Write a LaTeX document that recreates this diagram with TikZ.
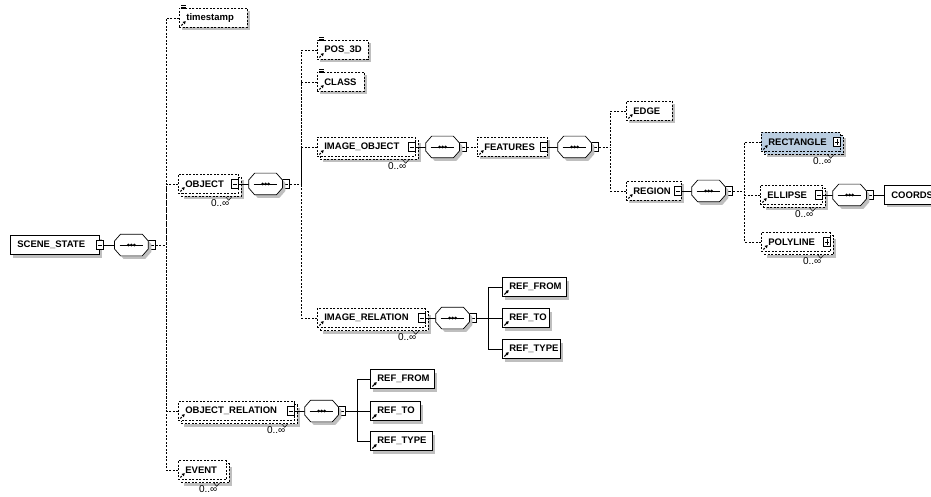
\documentclass[tikz,border=0pt]{standalone}
\usepackage{fontspec}
\setmainfont{Liberation Sans}
\usepackage{tikz}
\usetikzlibrary{positioning,shadows,arrows.meta}
\definecolor{selblue}{RGB}{186,205,224}
\tikzstyle{elem}=[rectangle, draw=black, fill=white, anchor=west, minimum height=19pt, inner xsep=0pt, inner ysep=0pt, align=left, font=\fontsize{9.5}{11}\selectfont\bfseries, execute at begin node={\hspace*{7pt}}]
\tikzset{
  opt/.style={dash pattern=on 2pt off 1.5pt},
  sh/.style={drop shadow={shadow xshift=3pt, shadow yshift=-3pt, fill=black!25, opacity=1}},
  multi/.style={fill=#1,
    preaction={fill=black!25, transform canvas={shift={(6pt,-6pt)}}},
    preaction={draw=black, fill=#1, opt, transform canvas={shift={(3pt,-3pt)}}}},
  multi/.default=white,
  ref/.style={path picture={
    \draw[line width=1.2pt, -{Latex[length=3pt, width=3.6pt]}]
      ([shift={(2pt,2pt)}]path picture bounding box.south west) -- ++(4.5pt,4.5pt);}},
  minus/.style={rectangle, draw=black, fill=white, minimum width=7pt, minimum height=9pt, inner sep=0pt,
    path picture={\draw ([xshift=1.5pt]path picture bounding box.west) -- ([xshift=-1.5pt]path picture bounding box.east);}},
  plus/.style={minus, path picture={
    \draw ([xshift=1.5pt]path picture bounding box.west) -- ([xshift=-1.5pt]path picture bounding box.east);
    \draw ([yshift=1.5pt]path picture bounding box.south) -- ([yshift=-1.5pt]path picture bounding box.north);}},
  seq/.style={rectangle, minimum width=33pt, minimum height=21pt, inner sep=0pt},
  oct/.style={insert path={([yshift=4pt]#1.west) -- ([xshift=6pt]#1.north west) -- ([xshift=-6pt]#1.north east)
    -- ([yshift=4pt]#1.east) -- ([yshift=-4pt]#1.east) -- ([xshift=-6pt]#1.south east)
    -- ([xshift=6pt]#1.south west) -- ([yshift=-4pt]#1.west) -- cycle}},
  card/.style={font=\fontsize{10}{11}\selectfont, inner sep=0pt},
}

\begin{document}
\begin{tikzpicture}[x=1pt, y=1pt, line width=0.7pt]
    \path[use as bounding box, fill=white] (0,0) rectangle (931,496);

    % root element and its sequence
    \node (sceneState) [elem, sh, text width=89pt] at (10,251) {SCENE\_STATE};
    \node (ssMin) [minus] at (sceneState.east) {};
    \node (ssSeq) [seq, right=11pt of ssMin] {};
    \node (ssSeqMin) [minus, right=0pt of ssSeq] {};
    \draw (ssMin) -- (ssSeq);

    % children of SCENE_STATE
    \node (stamp) [elem, opt, sh, ref, text width=68pt] at (179,478) {timestamp};
    \node (obj) [elem, opt, multi, ref, text width=60pt] at (178,312) {OBJECT};
    \node (objRel) [elem, opt, multi, ref, text width=116pt] at (178,85) {OBJECT\_RELATION};
    \node (event) [elem, opt, multi, ref, text width=48pt] at (178,26) {EVENT};

    % OBJECT and what sits below it
    \node (pos) [elem, opt, sh, ref, text width=51pt] at (317,446) {POS\_3D};
    \node (cls) [elem, opt, sh, ref, text width=47pt] at (317,414) {CLASS};
    \node (imgObj) [elem, opt, multi, ref, text width=98pt] at (317,349) {IMAGE\_OBJECT};
    \node (imgRel) [elem, opt, multi, ref, text width=108pt] at (317,178) {IMAGE\_RELATION};
    \node (feat) [elem, opt, sh, ref, text width=70pt] at (477,349) {FEATURES};
    \node (edge) [elem, opt, sh, ref, text width=46pt] at (626,385) {EDGE};
    \node (region) [elem, opt, sh, ref, text width=55pt] at (626,305) {REGION};
    \node (rect) [elem, opt, multi=selblue, ref, text width=79pt] at (761,354) {RECTANGLE};
    \node (ellipse) [elem, opt, multi, ref, text width=62pt] at (760,301) {ELLIPSE};
    \node (poly) [elem, opt, multi, ref, text width=69pt] at (761,254) {POLYLINE};
    \node (coords) [elem, sh, text width=60pt] at (884,301) {COORDS};

    % references of the two relations
    \node (irFrom) [elem, sh, ref, text width=64pt] at (502,209) {REF\_FROM};
    \node (irTo) [elem, sh, ref, text width=47pt] at (502,178) {REF\_TO};
    \node (irType) [elem, sh, ref, text width=58pt] at (502,147) {REF\_TYPE};
    \node (orFrom) [elem, sh, ref, text width=64pt] at (370,117) {REF\_FROM};
    \node (orTo) [elem, sh, ref, text width=50pt] at (370,85) {REF\_TO};
    \node (orType) [elem, sh, ref, text width=62pt] at (370,55) {REF\_TYPE};

    % sequence compositors
    \foreach \p in {obj,imgObj,feat,region,ellipse,imgRel,objRel}{
        \node (\p Min) [minus, left=0pt of \p.east] {};
        \node (\p Seq) [seq, right=10pt of \p Min] {};
        \node (\p SeqMin) [minus, right=0pt of \p Seq] {};
        \draw (\p Min) -- (\p Seq);
    }
    \foreach \p in {ss,obj,imgObj,feat,region,ellipse,imgRel,objRel}{
        \fill[black!25, transform canvas={shift={(3pt,-3pt)}}, oct=\p Seq];
        \filldraw[fill=white, oct=\p Seq];
        \draw ([xshift=5pt]\p Seq.west) -- ([xshift=-5pt]\p Seq.east);
        \foreach \d in {-3,0,3} \fill ([xshift=\d pt]\p Seq.center) circle (1.5pt);
    }
    \node (rectPlus) [plus, left=0pt of rect.east] {};
    \node (polyPlus) [plus, left=0pt of poly.east] {};

    % buses: dashed for optional children, solid for required ones
    \coordinate (ssBus) at ([xshift=10pt]ssSeqMin.east);
    \draw[opt] (ssSeqMin) -- (ssBus);
    \foreach \c in {stamp,obj,objRel,event} \draw[opt] (\c.west) -| (ssBus);

    \coordinate (objBus) at ([xshift=11pt]objSeqMin.east);
    \draw[opt] (objSeqMin) -- (objBus);
    \foreach \c in {pos,cls,imgObj,imgRel} \draw[opt] (\c.west) -| (objBus);

    \draw[opt] (imgObjSeqMin) -- (feat);

    \coordinate (featBus) at ([xshift=11pt]featSeqMin.east);
    \draw[opt] (featSeqMin) -- (featBus);
    \foreach \c in {edge,region} \draw[opt] (\c.west) -| (featBus);

    \coordinate (regionBus) at ([xshift=11pt]regionSeqMin.east);
    \draw[opt] (regionSeqMin) -- (regionBus);
    \foreach \c in {rect,ellipse,poly} \draw[opt] (\c.west) -| (regionBus);

    \draw (ellipseSeqMin) -- (coords);

    \coordinate (imgRelBus) at ([xshift=11pt]imgRelSeqMin.east);
    \draw (imgRelSeqMin) -- (imgRelBus);
    \foreach \c in {irFrom,irTo,irType} \draw (\c.west) -| (imgRelBus);

    \coordinate (objRelBus) at ([xshift=11pt]objRelSeqMin.east);
    \draw (objRelSeqMin) -- (objRelBus);
    \foreach \c in {orFrom,orTo,orType} \draw (\c.west) -| (objRelBus);

    % annotation marks
    \foreach \n in {stamp,pos,cls}
        \foreach \dy in {2.5,1,-0.5}
            \draw[line width=0.5pt] ([shift={(2pt,\dy pt)}]\n.north west) -- ++(4.5pt,0);

    % occurrence notches and labels
    \foreach \n in {obj,objRel,event,imgObj,imgRel,rect,ellipse,poly}{
        \draw[line width=0.5pt] ([shift={(-13pt,-3pt)}]\n.south east) -- ++(3pt,-3.5pt) -- ++(3pt,3.5pt);
        \node (card\n) [card, below left=5pt and 9pt of \n.south east] {0..∞};
    }
\end{tikzpicture}
\end{document}
